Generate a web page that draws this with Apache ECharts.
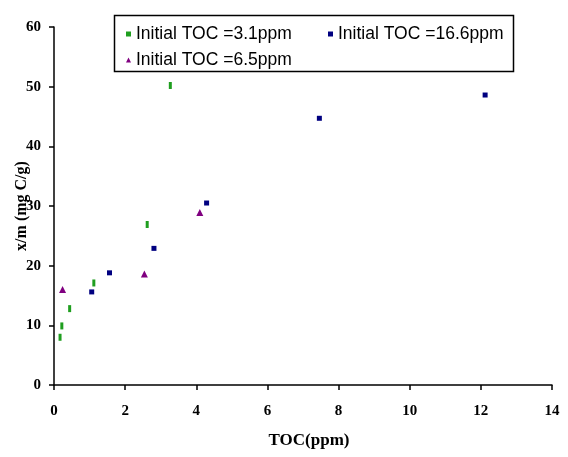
<!DOCTYPE html>
<html>
<head>
<meta charset="utf-8">
<script src="https://cdn.jsdelivr.net/npm/echarts@6/dist/echarts.min.js"></script>
<style>
  html, body { margin: 0; padding: 0; background: #fff; }
  #chart { width: 568px; height: 457px; }
</style>
</head>
<body>
<div id="chart"></div>
<script>
// Adsorption isotherm data: equilibrium TOC (ppm) vs uptake x/m (mg C/g)
const seriesNames = ['Initial TOC =3.1ppm', 'Initial TOC =16.6ppm', 'Initial TOC =6.5ppm'];

const toc31_x = [0.17, 0.22, 0.44, 1.12, 2.62, 3.27];
const toc31_y = [8.0, 9.9, 12.8, 17.1, 26.9, 50.2];

const toc166_x = [1.06, 1.56, 2.81, 4.29, 7.46, 12.12];
const toc166_y = [15.6, 18.8, 22.9, 30.5, 44.7, 48.6];

const toc65_x = [0.24, 2.54, 4.10];
const toc65_y = [16.0, 18.6, 28.9];

const xTicks = [0, 2, 4, 6, 8, 10, 12, 14];
const yTicks = [0, 10, 20, 30, 40, 50, 60];

const pairs = (xs, ys) => xs.map((x, i) => [x, ys[i]]);

const serifBold = { fontFamily: 'Liberation Serif', fontWeight: 'bold', color: '#000' };
const legendText = { fontFamily: 'Liberation Sans', fontSize: 17.5, color: '#000' };
const legendCommon = { itemWidth: 5, itemHeight: 5, itemGap: 7, textStyle: legendText, selectedMode: false };

const chart = echarts.init(document.getElementById('chart'), null, { renderer: 'canvas' });

chart.setOption({
  animation: false,
  backgroundColor: '#fff',
  grid: { left: 54, right: 16, top: 27, bottom: 72, containLabel: false, outerBoundsMode: 'none' },
  xAxis: {
    type: 'value',
    min: xTicks[0], max: xTicks[xTicks.length - 1], interval: 2,
    name: 'TOC(ppm)', nameLocation: 'middle', nameGap: 47, nameMoveOverlap: false,
    nameTextStyle: Object.assign({ fontSize: 17, padding: [0, 0, 0, 12] }, serifBold),
    axisLine: { lineStyle: { color: '#000', width: 1.5 } },
    axisTick: { show: true, length: 5, lineStyle: { color: '#000', width: 1.5 } },
    axisLabel: Object.assign({ fontSize: 15, margin: 19 }, serifBold),
    splitLine: { show: false }
  },
  yAxis: {
    type: 'value',
    min: yTicks[0], max: yTicks[yTicks.length - 1], interval: 10,
    name: 'x/m (mg C/g)', nameLocation: 'middle', nameGap: 24, nameMoveOverlap: false,
    nameTextStyle: Object.assign({ fontSize: 16 }, serifBold),
    axisLine: { show: true, lineStyle: { color: '#000', width: 1.5 } },
    axisTick: { show: true, length: 5, lineStyle: { color: '#000', width: 1.5 } },
    axisLabel: Object.assign({ fontSize: 15, margin: 13 }, serifBold),
    splitLine: { show: false }
  },
  legend: [
    Object.assign({ data: [seriesNames[0]], left: 121, top: 20 }, legendCommon),
    Object.assign({ data: [seriesNames[1]], left: 323, top: 20 }, legendCommon),
    Object.assign({ data: [seriesNames[2]], left: 121, top: 46 }, legendCommon)
  ],
  graphic: [
    { type: 'rect', left: 112, top: 13, shape: { width: 399, height: 56 },
      style: { fill: 'none', stroke: '#000', lineWidth: 1.5 }, z: 0 }
  ],
  series: [
    { name: seriesNames[0], type: 'scatter', data: pairs(toc31_x, toc31_y),
      symbol: 'rect', symbolSize: [3, 7], itemStyle: { color: '#1f9e1f', opacity: 1 } },
    { name: seriesNames[1], type: 'scatter', data: pairs(toc166_x, toc166_y),
      symbol: 'rect', symbolSize: 5, itemStyle: { color: '#000080', opacity: 1 } },
    { name: seriesNames[2], type: 'scatter', data: pairs(toc65_x, toc65_y),
      symbol: 'triangle', symbolSize: 7, itemStyle: { color: '#800080', opacity: 1 } }
  ]
});
</script>
</body>
</html>
